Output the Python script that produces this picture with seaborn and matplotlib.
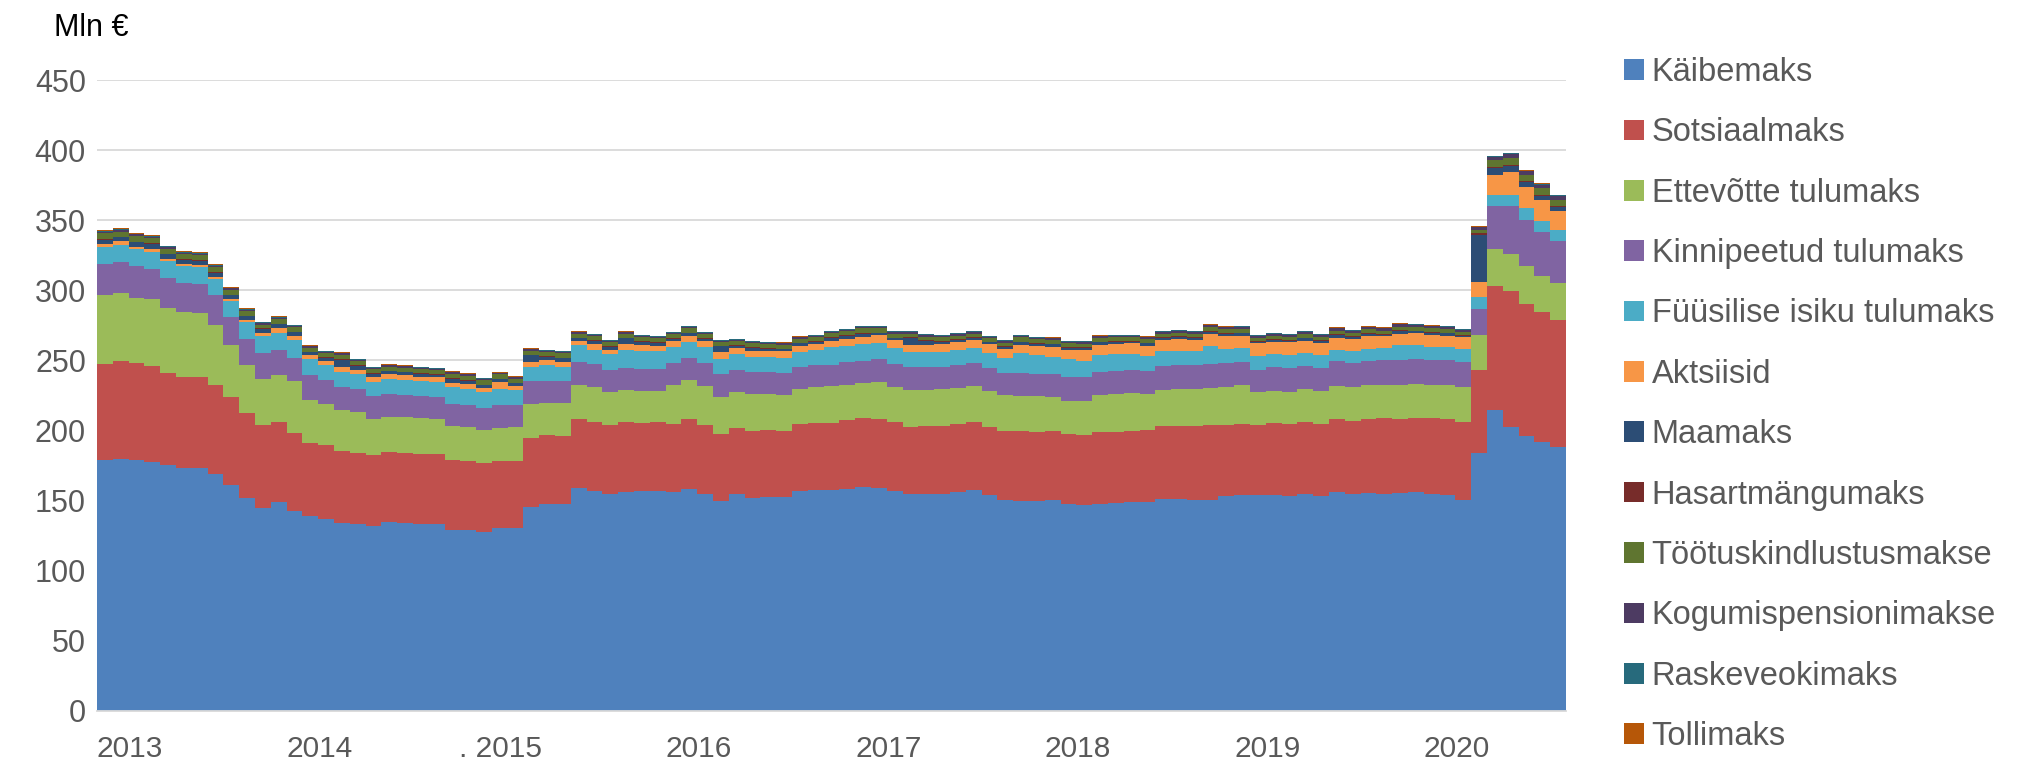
import numpy as np
import pandas as pd
import matplotlib
matplotlib.use("Agg")
import matplotlib.pyplot as plt
import matplotlib.transforms as mtransforms
from matplotlib.patches import Patch
import seaborn as sns

# ---------------- data (Mln €, monthly, Jan 2013 .. Sep 2020) ----------------
year_labels = ["2013", "2014", ". 2015", "2016", "2017", "2018", "2019", "2020"]
months_per_year = 12

series_names = ["Käibemaks", "Sotsiaalmaks", "Ettevõtte tulumaks", "Kinnipeetud tulumaks",
                "Füüsilise isiku tulumaks", "Aktsiisid", "Maamaks", "Hasartmängumaks",
                "Töötuskindlustusmakse", "Kogumispensionimakse", "Raskeveokimaks", "Tollimaks"]
series_colors = ["#4F81BD", "#C0504D", "#9BBB59", "#8064A2", "#4BACC6", "#F79646",
                 "#2C4D75", "#772C2A", "#5F7530", "#4D3B62", "#276A7C", "#B65708"]

kaibemaks = [179.0, 179.9, 178.7, 177.6, 175.2, 173.3, 173.3, 168.6, 160.8, 152.0, 144.9, 148.7,
             142.4, 138.6, 136.7, 133.6, 132.9, 131.7, 134.5, 134.1, 133.1, 133.4, 128.9, 128.6,
             127.7, 130.1, 130.1, 145.6, 147.8, 147.8, 158.7, 157.0, 154.4, 155.8, 156.5, 157.0,
             156.1, 158.4, 154.9, 149.9, 154.6, 152.0, 152.7, 152.3, 157.0, 157.2, 157.2, 158.4,
             159.8, 158.9, 157.0, 154.4, 154.4, 154.4, 155.8, 157.2, 153.7, 150.2, 149.4, 149.4,
             150.2, 147.5, 147.0, 147.5, 148.5, 148.7, 148.7, 151.3, 150.9, 150.6, 150.6, 153.2,
             154.2, 154.2, 154.2, 153.5, 154.9, 153.5, 155.8, 154.6, 155.1, 154.6, 155.1, 155.8,
             154.6, 153.9, 150.6, 183.9, 214.4, 202.1, 195.8, 191.5, 188.2]
sotsiaalmaks = [68.5, 69.5, 69.1, 68.5, 66.0, 64.8, 65.0, 64.0, 62.8, 60.1, 58.7, 57.5,
                55.5, 52.2, 52.7, 52.0, 51.0, 50.8, 49.9, 49.6, 50.1, 49.4, 50.1, 49.9,
                49.2, 48.4, 48.4, 49.2, 48.9, 48.0, 49.1, 48.7, 49.2, 49.9, 48.9, 48.7,
                48.2, 49.6, 49.1, 47.7, 47.1, 47.3, 47.3, 47.3, 47.3, 48.2, 48.2, 48.7,
                48.7, 48.9, 49.2, 48.2, 48.7, 48.7, 48.5, 48.5, 48.4, 49.4, 50.2, 49.7,
                49.4, 49.7, 50.0, 51.1, 50.3, 50.9, 51.3, 51.6, 52.2, 52.5, 53.0, 50.8,
                50.3, 49.8, 50.8, 50.8, 50.8, 50.8, 52.2, 52.0, 52.9, 53.9, 52.9, 53.2,
                54.2, 54.1, 55.3, 58.9, 88.5, 97.0, 94.3, 92.7, 90.5]
ettevotte_tulumaks = [49.2, 48.3, 47.0, 47.3, 46.3, 46.1, 45.4, 42.8, 37.2, 34.5, 33.3, 33.3,
                      37.1, 31.2, 29.1, 28.6, 28.9, 25.5, 25.5, 25.5, 25.3, 25.5, 24.1, 23.6,
                      23.1, 23.4, 23.9, 24.1, 22.9, 23.4, 24.8, 25.3, 23.9, 22.9, 22.7, 22.7,
                      28.1, 27.7, 27.7, 26.5, 26.0, 26.5, 25.8, 25.5, 25.3, 25.6, 26.1, 25.3,
                      25.1, 26.7, 24.8, 26.0, 25.8, 26.2, 26.0, 26.0, 26.0, 25.7, 25.2, 25.3,
                      24.3, 24.1, 24.3, 27.0, 27.3, 27.2, 25.8, 26.2, 26.5, 26.7, 26.7, 27.0,
                      27.9, 23.2, 23.1, 23.4, 23.6, 23.8, 23.9, 24.2, 24.2, 23.9, 24.2, 24.1,
                      23.8, 24.4, 25.1, 25.1, 26.7, 26.5, 27.2, 26.0, 26.5]
kinnipeetud_tulumaks = [21.8, 22.4, 22.2, 22.0, 21.3, 21.0, 20.8, 21.1, 20.1, 18.9, 18.4, 18.2,
                        17.0, 17.5, 17.2, 17.0, 16.5, 16.4, 16.4, 15.9, 15.9, 15.3, 15.4, 15.7,
                        15.9, 16.1, 15.6, 16.1, 15.9, 15.8, 16.4, 16.1, 15.8, 15.6, 15.9, 15.6,
                        15.4, 16.1, 16.3, 15.9, 15.6, 16.1, 15.8, 15.8, 15.8, 15.8, 15.3, 16.1,
                        16.1, 16.6, 16.5, 16.3, 16.0, 15.9, 16.1, 16.1, 16.6, 15.9, 16.1, 16.0,
                        16.5, 17.0, 16.8, 16.3, 16.5, 16.5, 16.6, 16.6, 16.8, 16.6, 16.8, 16.8,
                        16.1, 16.1, 16.8, 17.0, 16.8, 16.6, 17.8, 17.4, 17.5, 17.5, 17.7, 17.8,
                        17.8, 18.0, 18.0, 18.6, 30.2, 34.2, 33.1, 31.7, 29.6]
fuusilise_tulumaks = [12.7, 12.5, 12.1, 11.8, 11.8, 11.8, 11.8, 11.8, 11.3, 11.6, 12.3, 11.8,
                      12.6, 11.4, 11.1, 10.7, 10.7, 10.4, 10.4, 11.1, 10.9, 11.2, 12.3, 12.0,
                      11.8, 11.6, 10.9, 10.4, 11.1, 10.4, 11.8, 10.6, 10.9, 13.3, 12.5, 12.5,
                      11.8, 11.6, 11.6, 11.1, 10.9, 10.8, 10.6, 10.7, 10.7, 10.9, 12.8, 12.0,
                      12.0, 11.3, 11.4, 11.2, 11.2, 10.9, 11.3, 11.1, 10.6, 10.6, 14.0, 13.1,
                      12.3, 12.3, 11.6, 11.8, 11.6, 11.3, 10.8, 10.6, 10.4, 10.1, 13.4, 10.6,
                      10.4, 9.9, 9.7, 9.2, 8.8, 8.8, 8.0, 8.6, 8.5, 9.0, 11.1, 10.1,
                      9.2, 8.9, 9.2, 8.8, 8.3, 8.3, 8.0, 7.8, 8.0]
aktsiisid = [1.9, 2.2, 2.1, 2.4, 1.4, 1.5, 1.5, 1.0, 1.4, 1.6, 1.7, 3.6,
             3.0, 2.6, 2.6, 3.3, 3.3, 3.3, 3.3, 3.1, 3.0, 3.0, 3.0, 3.1,
             2.8, 4.9, 2.8, 3.3, 3.3, 3.3, 2.8, 4.0, 3.3, 4.2, 4.3, 3.8,
             4.0, 4.2, 4.0, 4.7, 4.4, 4.3, 4.3, 4.7, 4.0, 3.8, 4.0, 4.8,
             5.2, 5.7, 5.9, 4.9, 4.9, 5.2, 5.2, 5.7, 6.0, 6.6, 5.9, 6.6,
             6.9, 7.1, 8.0, 7.3, 7.3, 7.6, 7.1, 8.3, 8.2, 8.1, 8.1, 8.8,
             8.7, 9.0, 8.8, 9.0, 8.7, 8.5, 8.5, 8.7, 9.0, 8.3, 8.1, 8.3,
             8.3, 8.3, 8.2, 10.9, 14.2, 16.1, 15.6, 14.4, 14.0]
maamaks = [3.0, 2.9, 2.9, 3.3, 3.5, 3.1, 3.2, 3.2, 2.8, 2.7, 3.1, 2.6,
           2.4, 2.2, 2.3, 5.2, 2.8, 2.3, 2.2, 2.2, 2.1, 2.0, 3.0, 2.6,
           1.8, 1.9, 1.8, 4.9, 2.6, 2.8, 2.0, 2.1, 2.2, 3.9, 2.5, 2.2,
           1.8, 1.8, 1.7, 4.1, 1.8, 2.0, 1.9, 1.7, 2.0, 1.7, 2.4, 2.1,
           2.2, 1.3, 1.0, 5.0, 2.8, 2.1, 1.7, 1.5, 1.5, 1.4, 2.2, 1.8,
           1.7, 1.4, 1.3, 1.9, 1.8, 1.2, 1.8, 1.6, 1.8, 1.5, 1.9, 1.9,
           1.8, 1.1, 1.3, 1.0, 2.1, 1.9, 2.0, 1.3, 1.8, 1.2, 2.0, 1.5,
           1.8, 1.8, 1.2, 33.5, 5.0, 4.6, 3.0, 3.1, 2.5]
hasartmangumaks = [0.5, 0.5, 0.5, 0.5, 0.5, 0.5, 0.5, 0.5, 0.5, 0.5, 0.5, 0.5,
                   0.4, 0.4, 0.4, 0.4, 0.4, 0.4, 0.4, 0.4, 0.4, 0.4, 0.4, 0.4,
                   0.4, 0.4, 0.4, 0.4, 0.4, 0.4, 0.4, 0.4, 0.4, 0.4, 0.4, 0.4,
                   0.4, 0.4, 0.4, 0.4, 0.4, 0.4, 0.4, 0.4, 0.4, 0.4, 0.4, 0.4,
                   0.4, 0.4, 0.4, 0.4, 0.4, 0.4, 0.4, 0.4, 0.4, 0.4, 0.4, 0.4,
                   0.4, 0.4, 0.4, 0.4, 0.4, 0.4, 0.4, 0.4, 0.4, 0.4, 0.4, 0.4,
                   0.4, 0.4, 0.4, 0.4, 0.4, 0.4, 0.4, 0.4, 0.4, 0.4, 0.4, 0.4,
                   0.4, 0.4, 0.4, 0.8, 0.8, 0.8, 0.8, 0.8, 0.8]
tootuskindlustusmakse = [3.9, 3.7, 4.0, 3.6, 3.6, 3.6, 3.5, 3.5, 3.3, 3.0, 2.6, 3.1,
                         3.1, 3.0, 3.0, 3.3, 2.9, 2.9, 2.8, 2.8, 2.9, 2.8, 3.2, 3.1,
                         3.2, 3.1, 3.0, 2.9, 3.1, 3.2, 3.0, 2.9, 2.8, 3.0, 2.9, 2.8,
                         2.9, 3.1, 3.0, 2.7, 2.7, 2.9, 2.8, 2.7, 2.9, 2.7, 2.9, 2.9,
                         3.3, 3.0, 2.8, 2.6, 2.7, 2.6, 2.6, 2.5, 2.5, 2.5, 2.9, 2.6,
                         2.7, 2.6, 2.5, 2.6, 2.6, 2.5, 2.6, 2.5, 2.6, 2.6, 2.6, 2.6,
                         2.7, 2.4, 2.5, 2.3, 2.6, 2.6, 2.6, 2.4, 2.6, 2.4, 2.6, 2.4,
                         2.6, 2.6, 2.3, 2.5, 4.6, 5.0, 4.6, 4.7, 4.5]
kogumispensionimakse = [1.2, 1.2, 1.2, 1.2, 1.2, 1.1, 1.1, 1.1, 1.1, 1.0, 1.0, 1.0,
                        1.0, 1.0, 1.0, 1.0, 1.0, 1.0, 1.0, 1.0, 1.0, 1.0, 1.0, 1.0,
                        1.0, 1.0, 1.0, 1.0, 1.0, 1.0, 1.0, 1.0, 1.0, 1.0, 1.0, 1.0,
                        1.1, 1.1, 1.1, 1.1, 1.1, 1.1, 1.1, 1.1, 1.1, 1.1, 1.2, 1.2,
                        1.2, 1.2, 1.2, 1.2, 1.2, 1.2, 1.2, 1.2, 1.2, 1.2, 1.3, 1.3,
                        1.3, 1.3, 1.3, 1.3, 1.3, 1.3, 1.4, 1.4, 1.4, 1.4, 1.5, 1.5,
                        1.5, 1.5, 1.5, 1.5, 1.5, 1.5, 1.6, 1.6, 1.6, 1.6, 1.6, 1.6,
                        1.6, 1.6, 1.6, 1.8, 2.4, 2.6, 2.5, 2.6, 2.6]
raskeveokimaks = [0.6, 0.6, 0.6, 0.6, 0.6, 0.6, 0.6, 0.6, 0.6, 0.6, 0.6, 0.6,
                  0.4, 0.4, 0.4, 0.4, 0.4, 0.4, 0.4, 0.4, 0.4, 0.4, 0.4, 0.4,
                  0.4, 0.4, 0.4, 0.4, 0.4, 0.4, 0.4, 0.4, 0.4, 0.4, 0.4, 0.4,
                  0.4, 0.4, 0.4, 0.4, 0.4, 0.4, 0.4, 0.4, 0.4, 0.4, 0.4, 0.4,
                  0.4, 0.4, 0.4, 0.4, 0.4, 0.4, 0.4, 0.4, 0.4, 0.4, 0.4, 0.4,
                  0.4, 0.4, 0.4, 0.4, 0.4, 0.4, 0.4, 0.4, 0.4, 0.4, 0.4, 0.4,
                  0.4, 0.4, 0.4, 0.4, 0.4, 0.4, 0.4, 0.4, 0.4, 0.4, 0.4, 0.4,
                  0.4, 0.4, 0.4, 0.5, 0.5, 0.5, 0.5, 0.5, 0.5]
tollimaks = [0.5, 0.5, 0.5, 0.5, 0.5, 0.5, 0.5, 0.5, 0.5, 0.5, 0.5, 0.5,
             0.3, 0.3, 0.3, 0.3, 0.3, 0.3, 0.3, 0.3, 0.3, 0.3, 0.3, 0.3,
             0.3, 0.3, 0.3, 0.3, 0.3, 0.3, 0.3, 0.3, 0.3, 0.3, 0.3, 0.3,
             0.3, 0.3, 0.3, 0.3, 0.3, 0.3, 0.3, 0.3, 0.3, 0.3, 0.3, 0.3,
             0.3, 0.3, 0.3, 0.3, 0.3, 0.3, 0.3, 0.3, 0.3, 0.3, 0.3, 0.3,
             0.3, 0.3, 0.3, 0.3, 0.3, 0.3, 0.3, 0.3, 0.3, 0.3, 0.3, 0.3,
             0.3, 0.3, 0.3, 0.3, 0.3, 0.3, 0.3, 0.3, 0.3, 0.3, 0.3, 0.3,
             0.3, 0.3, 0.3, 0.4, 0.4, 0.4, 0.4, 0.4, 0.4]

series_values = [kaibemaks, sotsiaalmaks, ettevotte_tulumaks, kinnipeetud_tulumaks,
                 fuusilise_tulumaks, aktsiisid, maamaks, hasartmangumaks,
                 tootuskindlustusmakse, kogumispensionimakse, raskeveokimaks, tollimaks]

# ---------------- long table ----------------
frames = []
for name, vals in zip(series_names, series_values):
    frames.append(pd.DataFrame({"kuu": np.arange(len(vals)), "maks": name, "summa": vals}))
df = pd.concat(frames, ignore_index=True)
n_months = len(kaibemaks)

# ---------------- style ----------------
sns.set_theme(style="white")
plt.rcParams["font.family"] = ["Liberation Sans", "DejaVu Sans"]
grey_text = "#595959"
grid_col = "#D9D9D9"

W, H = 2032, 766
fig = plt.figure(figsize=(W / 100, H / 100), dpi=100)
ax_left, ax_right, ax_top, ax_bottom = 97, 1566, 80, 710.7
ax = fig.add_axes([ax_left / W, 1 - ax_bottom / H, (ax_right - ax_left) / W, (ax_bottom - ax_top) / H])

palette = dict(zip(series_names, series_colors))
sns.histplot(data=df, x="kuu", weights="summa", hue="maks",
             hue_order=series_names[::-1], palette=palette,
             multiple="stack", discrete=True, shrink=1, element="bars",
             fill=True, alpha=1, linewidth=0, legend=False, ax=ax)

ax.set_xlim(-0.5, n_months - 0.5)
ax.set_ylim(0, 450)
ax.set_xlabel("")
ax.set_ylabel("")

# y axis
ax.set_yticks(np.arange(0, 451, 50))
ax.tick_params(axis="y", length=0, pad=8, labelsize=22, labelcolor=grey_text)
ax.grid(axis="y", which="major", color=grid_col, linewidth=1.3)

# x axis: year boundaries as minor gridlines, labels left-aligned at boundaries
year_starts = np.arange(len(year_labels)) * months_per_year - 0.5
ax.set_xticks(year_starts, minor=True)
ax.set_xticks(year_starts)
ax.set_xticklabels(year_labels, ha="left")
ax.tick_params(axis="x", which="both", length=0, pad=17.5, labelsize=21.5, labelcolor=grey_text)
ax.grid(axis="x", which="minor", color=grid_col, linewidth=1.3)
ax.grid(axis="x", which="major", visible=False)
ax.set_axisbelow(True)

for lab in ax.get_xticklabels():
    if lab.get_text().startswith(". "):
        lab.set_transform(lab.get_transform() +
                          mtransforms.ScaledTranslation(-0.17, 0, fig.dpi_scale_trans))

for s in ["top", "right", "left"]:
    ax.spines[s].set_visible(False)
ax.spines["bottom"].set_color(grid_col)
ax.spines["bottom"].set_linewidth(1.3)

# unit label
fig.text(54 / W, 1 - 36 / H, "Mln €", fontsize=22, color="black", ha="left", va="baseline")

# legend
handles = [Patch(facecolor=c, edgecolor="none") for c in series_colors]
fig.legend(handles, series_names, loc="upper left",
           bbox_to_anchor=(1624 / W, 1 - 57 / H), bbox_transform=fig.transFigure,
           frameon=False, fontsize=23.5, labelcolor=grey_text,
           handlelength=0.6, handleheight=0.6, handletextpad=0.25,
           labelspacing=0.9, borderpad=0, borderaxespad=0)

fig.savefig("out.png", dpi=100)
